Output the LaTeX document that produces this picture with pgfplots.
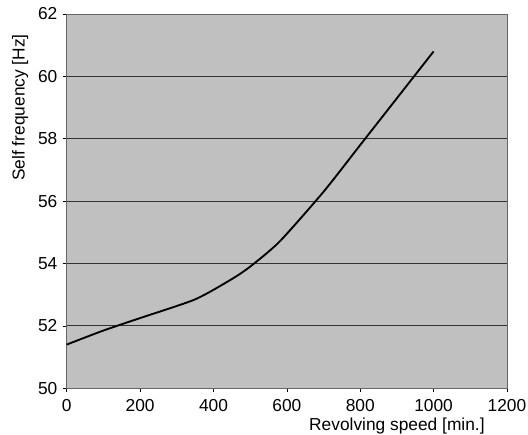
\documentclass[border=0pt]{standalone}
\usepackage{pgfplots}
\pgfplotsset{compat=1.18}
\usepackage{fontspec}
\setmainfont{Liberation Sans}
\definecolor{plotbg}{HTML}{C0C0C0}
\begin{document}
\begin{tikzpicture}
  \begin{axis}[
    width=330pt, height=280.5pt,
    scale only axis,
    xmin=0, xmax=1200, ymin=50, ymax=62,
    xtick={0,200,...,1200},
    ytick={50,52,...,62},
    axis background/.style={fill=plotbg},
    ymajorgrids,
    major grid style={black!80, line width=0.6pt},
    axis line style={gray!80!black, line width=0.7pt},
    tick style={black, line width=0.5pt},
    tick align=outside,
    major tick length=3pt,
    xtick pos=bottom, ytick pos=left,
    ticklabel style={font=\fontsize{13}{15}\selectfont},
    xticklabel style={yshift=-1.5pt},
    yticklabel style={xshift=-0.5pt},
    /pgf/number format/assume math mode=true,
    /pgf/number format/1000 sep={},
    ylabel={Self frequency [Hz]},
    xlabel={Revolving speed [min.]},
    label style={font=\fontsize{13}{15}\selectfont},
    xlabel style={at={(axis description cs:0.75,0)}, anchor=north, yshift=-19pt},
    ylabel style={at={(axis description cs:-0.106,0.75)}, anchor=center},
    clip=false,
  ]
    % Eigenfrequenz ueber Drehzahl
    \addplot[black, line width=1.4pt, smooth, tension=0.4] coordinates {
      (0,51.4)
      (100,51.85)
      (200,52.25)
      (350,52.85)
      (450,53.5)
      (500,53.9)
      (580,54.7)
      (700,56.3)
      (800,57.8)
      (900,59.3)
      (1000,60.8)
    };
  \end{axis}
  \pgfresetboundingbox
  \path (current axis.south west) ++(-50pt,-34.5pt) coordinate (bbA);
  \path (current axis.north east) ++(15.75pt,10.5pt) coordinate (bbB);
  \path[use as bounding box] (bbA) rectangle (bbB);
\end{tikzpicture}
\end{document}
